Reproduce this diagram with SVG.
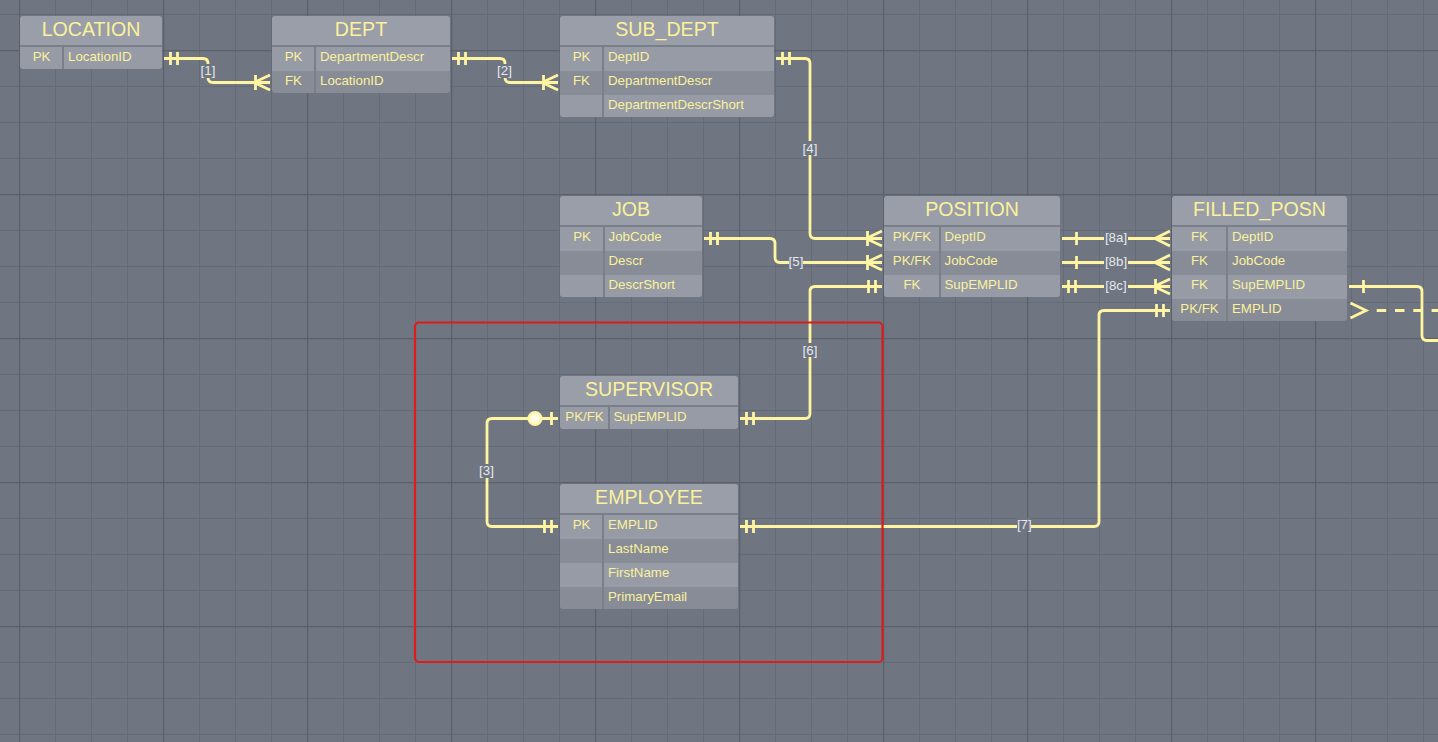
<svg xmlns="http://www.w3.org/2000/svg" width="1438" height="742" viewBox="0 0 1438 742">
<style>
.bg{fill:#7a7f89}
.hd{fill:#999ea8}
.rl{fill:#969ba5}
.rd{fill:#878c96}
.t{font-family:"Liberation Sans",Arial,sans-serif;font-size:19.6px;fill:#fbf19c;text-anchor:middle}
.k{font-family:"Liberation Sans",Arial,sans-serif;font-size:13.3px;fill:#fbf19c;text-anchor:middle}
.f{font-family:"Liberation Sans",Arial,sans-serif;font-size:13.3px;fill:#fbf19c}
.c{fill:none;stroke:#fff5a0;stroke-width:2.8}
.mk{fill:none;stroke:#fff5a0;stroke-width:2.8}
.lb{font-family:"Liberation Sans",Arial,sans-serif;font-size:13.3px;fill:#e6e8ec;text-anchor:middle}
.lbg{fill:#6f7581}
</style>
<defs>
<pattern id="gMinor" patternUnits="userSpaceOnUse" x="19" y="14" width="36" height="36">
<rect x="0" y="0" width="1" height="36" fill="#646a76"/>
<rect x="0" y="0" width="36" height="1" fill="#646a76"/>
</pattern>
<pattern id="gMajor" patternUnits="userSpaceOnUse" x="19" y="50" width="144" height="144">
<rect x="0" y="0" width="1.3" height="144" fill="#5b616c"/>
<rect x="0" y="0" width="144" height="1.3" fill="#5b616c"/>
</pattern>
<marker id="one2" markerUnits="userSpaceOnUse" orient="auto-start-reverse" viewBox="-20 -10 21 20" refX="0" refY="0" markerWidth="21" markerHeight="20">
<path class="mk" d="M-6.5,-6.5V6.5M-13.5,-6.5V6.5"/>
</marker>
<marker id="one1" markerUnits="userSpaceOnUse" orient="auto-start-reverse" viewBox="-20 -10 21 20" refX="0" refY="0" markerWidth="21" markerHeight="20">
<path class="mk" d="M-14.5,-6.5V6.5"/>
</marker>
<marker id="onemany" markerUnits="userSpaceOnUse" orient="auto-start-reverse" viewBox="-20 -10 21 20" refX="0" refY="0" markerWidth="21" markerHeight="20">
<path class="mk" d="M-16,0L0,-7.5M-16,0L0,7.5M-14.5,-7.5V7.5"/>
</marker>
<marker id="many" markerUnits="userSpaceOnUse" orient="auto-start-reverse" viewBox="-20 -10 21 20" refX="0" refY="0" markerWidth="21" markerHeight="20">
<path class="mk" d="M-15,0L0,-7.5M-15,0L0,7.5"/>
</marker>
<marker id="zeroone" markerUnits="userSpaceOnUse" orient="auto-start-reverse" viewBox="-36 -10 37 20" refX="0" refY="0" markerWidth="37" markerHeight="20">
<path class="mk" d="M-6.5,-6.5V6.5"/>
<circle cx="-23" cy="0" r="6.3" fill="#fffbe6" stroke="#fff5a0" stroke-width="2.6"/>
</marker>
<clipPath id="cLOC"><rect x="20" y="16" width="142" height="53" rx="3"/></clipPath>
<clipPath id="cDEPT"><rect x="272" y="16" width="178" height="77" rx="3"/></clipPath>
<clipPath id="cSUB"><rect x="560" y="16" width="214" height="101" rx="3"/></clipPath>
<clipPath id="cJOB"><rect x="560" y="196" width="142" height="101" rx="3"/></clipPath>
<clipPath id="cPOS"><rect x="884" y="196" width="176" height="101" rx="3"/></clipPath>
<clipPath id="cFIL"><rect x="1172" y="196" width="175" height="125" rx="3"/></clipPath>
<clipPath id="cSUP"><rect x="560" y="376" width="178" height="53" rx="3"/></clipPath>
<clipPath id="cEMP"><rect x="560" y="484" width="178" height="125" rx="3"/></clipPath>
</defs>

<rect x="0" y="0" width="1438" height="742" fill="#6f7581"/>
<rect x="0" y="0" width="1438" height="742" fill="url(#gMinor)"/>
<rect x="0" y="0" width="1438" height="742" fill="url(#gMajor)"/>

<g id="connectors">
<path class="c" d="M164,58.5H203Q208,58.5 208,63.5V77.5Q208,82.5 213,82.5H270" marker-start="url(#one2)" marker-end="url(#onemany)"/>
<path class="c" d="M452,58.5H500Q505,58.5 505,63.5V77.5Q505,82.5 510,82.5H558" marker-start="url(#one2)" marker-end="url(#onemany)"/>
<path class="c" d="M776,58.5H805Q810,58.5 810,63.5V233.5Q810,238.5 815,238.5H882" marker-start="url(#one2)" marker-end="url(#onemany)"/>
<path class="c" d="M704,238.5H770Q775,238.5 775,243.5V257.5Q775,262.5 780,262.5H882" marker-start="url(#one2)" marker-end="url(#onemany)"/>
<path class="c" d="M740,418.5H805Q810,418.5 810,413.5V291.5Q810,286.5 815,286.5H882" marker-start="url(#one2)" marker-end="url(#one2)"/>
<path class="c" d="M558,418.5H492Q487,418.5 487,423.5V521.5Q487,526.5 492,526.5H558" marker-start="url(#zeroone)" marker-end="url(#one2)"/>
<path class="c" d="M740,526.5H1094Q1099,526.5 1099,521.5V315.5Q1099,310.5 1104,310.5H1170" marker-start="url(#one2)" marker-end="url(#one2)"/>
<path class="c" d="M1062,238.5H1170" marker-start="url(#one1)" marker-end="url(#many)"/>
<path class="c" d="M1062,262.5H1170" marker-start="url(#one1)" marker-end="url(#many)"/>
<path class="c" d="M1062,286.5H1170" marker-start="url(#one2)" marker-end="url(#onemany)"/>
<path class="c" d="M1349,286.5H1417Q1422,286.5 1422,291.5V335.5Q1422,340.5 1427,340.5H1440" marker-start="url(#one1)"/>
<polyline class="c" points="1350.5,303 1366,310.5 1350.5,318"/>
<path class="c" d="M1376.7,310.5H1440" stroke-dasharray="9.5 8.8"/>
<rect class="lbg" x="201" y="64" width="14" height="14"/><text class="lb" x="208" y="75">[1]</text>
<rect class="lbg" x="497.5" y="64" width="14" height="14"/><text class="lb" x="504.5" y="75">[2]</text>
<rect class="lbg" x="803" y="141" width="14" height="14"/><text class="lb" x="810" y="152.5">[4]</text>
<rect class="lbg" x="789" y="255" width="14" height="14"/><text class="lb" x="796" y="266">[5]</text>
<rect class="lbg" x="803" y="343" width="14" height="14"/><text class="lb" x="810" y="354.5">[6]</text>
<rect class="lbg" x="479.5" y="464" width="14" height="14"/><text class="lb" x="486.5" y="475">[3]</text>
<rect class="lbg" x="1017" y="518" width="14" height="14"/><text class="lb" x="1024.3" y="529">[7]</text>
<rect class="lbg" x="1104" y="231" width="24" height="14"/><text class="lb" x="1116" y="241.5">[8a]</text>
<rect class="lbg" x="1104" y="255" width="24" height="14"/><text class="lb" x="1116" y="265.5">[8b]</text>
<rect class="lbg" x="1104" y="279" width="24" height="14"/><text class="lb" x="1116" y="289.5">[8c]</text>
</g>

<rect x="415" y="322.5" width="467.5" height="339.5" rx="4" fill="none" stroke="#e01b1b" stroke-width="2.2"/>

<g id="LOCATION" clip-path="url(#cLOC)">
<rect class="bg" x="20" y="16" width="142" height="53"/>
<rect class="hd" x="20" y="16" width="142" height="29"/>
<rect class="rl" x="20" y="47" width="42" height="24"/><rect class="rl" x="64" y="47" width="98" height="24"/>
<text class="t" x="91" y="35.7">LOCATION</text>
<text class="k" x="41.5" y="61.2">PK</text><text class="f" x="68" y="61.2">LocationID</text>
</g>

<g id="DEPT" clip-path="url(#cDEPT)">
<rect class="bg" x="272" y="16" width="178" height="77"/>
<rect class="hd" x="272" y="16" width="178" height="29"/>
<rect class="rl" x="272" y="47" width="42" height="24"/><rect class="rl" x="316" y="47" width="134" height="24"/>
<rect class="rd" x="272" y="71" width="42" height="24"/><rect class="rd" x="316" y="71" width="134" height="24"/>
<text class="t" x="361" y="35.7">DEPT</text>
<text class="k" x="293.5" y="61.2">PK</text><text class="f" x="320" y="61.2">DepartmentDescr</text>
<text class="k" x="293.5" y="85.2">FK</text><text class="f" x="320" y="85.2">LocationID</text>
</g>

<g id="SUB_DEPT" clip-path="url(#cSUB)">
<rect class="bg" x="560" y="16" width="214" height="101"/>
<rect class="hd" x="560" y="16" width="214" height="29"/>
<rect class="rl" x="560" y="47" width="42" height="24"/><rect class="rl" x="604" y="47" width="170" height="24"/>
<rect class="rd" x="560" y="71" width="42" height="24"/><rect class="rd" x="604" y="71" width="170" height="24"/>
<rect class="rl" x="560" y="95" width="42" height="24"/><rect class="rl" x="604" y="95" width="170" height="24"/>
<text class="t" x="667" y="35.7">SUB_DEPT</text>
<text class="k" x="581.5" y="61.2">PK</text><text class="f" x="608" y="61.2">DeptID</text>
<text class="k" x="581.5" y="85.2">FK</text><text class="f" x="608" y="85.2">DepartmentDescr</text>
<text class="f" x="608" y="109.2">DepartmentDescrShort</text>
</g>

<g id="JOB" clip-path="url(#cJOB)">
<rect class="bg" x="560" y="196" width="142" height="101"/>
<rect class="hd" x="560" y="196" width="142" height="29"/>
<rect class="rl" x="560" y="227" width="43" height="24"/><rect class="rl" x="605" y="227" width="97" height="24"/>
<rect class="rd" x="560" y="251" width="43" height="24"/><rect class="rd" x="605" y="251" width="97" height="24"/>
<rect class="rl" x="560" y="275" width="43" height="24"/><rect class="rl" x="605" y="275" width="97" height="24"/>
<text class="t" x="631" y="215.7">JOB</text>
<text class="k" x="582" y="241.2">PK</text><text class="f" x="608.5" y="241.2">JobCode</text>
<text class="f" x="608.5" y="265.2">Descr</text>
<text class="f" x="608.5" y="289.2">DescrShort</text>
</g>

<g id="POSITION" clip-path="url(#cPOS)">
<rect class="bg" x="884" y="196" width="176" height="101"/>
<rect class="hd" x="884" y="196" width="176" height="29"/>
<rect class="rl" x="884" y="227" width="55" height="24"/><rect class="rl" x="941" y="227" width="119" height="24"/>
<rect class="rd" x="884" y="251" width="55" height="24"/><rect class="rd" x="941" y="251" width="119" height="24"/>
<rect class="rl" x="884" y="275" width="55" height="24"/><rect class="rl" x="941" y="275" width="119" height="24"/>
<text class="t" x="972" y="215.7">POSITION</text>
<text class="k" x="912" y="241.2">PK/FK</text><text class="f" x="944.5" y="241.2">DeptID</text>
<text class="k" x="912" y="265.2">PK/FK</text><text class="f" x="944.5" y="265.2">JobCode</text>
<text class="k" x="912" y="289.2">FK</text><text class="f" x="944.5" y="289.2">SupEMPLID</text>
</g>

<g id="FILLED_POSN" clip-path="url(#cFIL)">
<rect class="bg" x="1172" y="196" width="175" height="125"/>
<rect class="hd" x="1172" y="196" width="175" height="29"/>
<rect class="rl" x="1172" y="227" width="54" height="24"/><rect class="rl" x="1228" y="227" width="119" height="24"/>
<rect class="rd" x="1172" y="251" width="54" height="24"/><rect class="rd" x="1228" y="251" width="119" height="24"/>
<rect class="rl" x="1172" y="275" width="54" height="24"/><rect class="rl" x="1228" y="275" width="119" height="24"/>
<rect class="rd" x="1172" y="299" width="54" height="24"/><rect class="rd" x="1228" y="299" width="119" height="24"/>
<text class="t" x="1259.5" y="215.7">FILLED_POSN</text>
<text class="k" x="1199.5" y="241.2">FK</text><text class="f" x="1232" y="241.2">DeptID</text>
<text class="k" x="1199.5" y="265.2">FK</text><text class="f" x="1232" y="265.2">JobCode</text>
<text class="k" x="1199.5" y="289.2">FK</text><text class="f" x="1232" y="289.2">SupEMPLID</text>
<text class="k" x="1199.5" y="313.2">PK/FK</text><text class="f" x="1232" y="313.2">EMPLID</text>
</g>

<g id="SUPERVISOR" clip-path="url(#cSUP)">
<rect class="bg" x="560" y="376" width="178" height="53"/>
<rect class="hd" x="560" y="376" width="178" height="29"/>
<rect class="rl" x="560" y="407" width="48" height="24"/><rect class="rl" x="610" y="407" width="128" height="24"/>
<text class="t" x="649" y="395.7">SUPERVISOR</text>
<text class="k" x="584.5" y="421.2">PK/FK</text><text class="f" x="613.5" y="421.2">SupEMPLID</text>
</g>

<g id="EMPLOYEE" clip-path="url(#cEMP)">
<rect class="bg" x="560" y="484" width="178" height="125"/>
<rect class="hd" x="560" y="484" width="178" height="29"/>
<rect class="rl" x="560" y="515" width="42" height="24"/><rect class="rl" x="604" y="515" width="134" height="24"/>
<rect class="rd" x="560" y="539" width="42" height="24"/><rect class="rd" x="604" y="539" width="134" height="24"/>
<rect class="rl" x="560" y="563" width="42" height="24"/><rect class="rl" x="604" y="563" width="134" height="24"/>
<rect class="rd" x="560" y="587" width="42" height="24"/><rect class="rd" x="604" y="587" width="134" height="24"/>
<text class="t" x="649" y="503.7">EMPLOYEE</text>
<text class="k" x="581.5" y="529.2">PK</text><text class="f" x="608" y="529.2">EMPLID</text>
<text class="f" x="608" y="553.2">LastName</text>
<text class="f" x="608" y="577.2">FirstName</text>
<text class="f" x="608" y="601.2">PrimaryEmail</text>
</g>
</svg>
